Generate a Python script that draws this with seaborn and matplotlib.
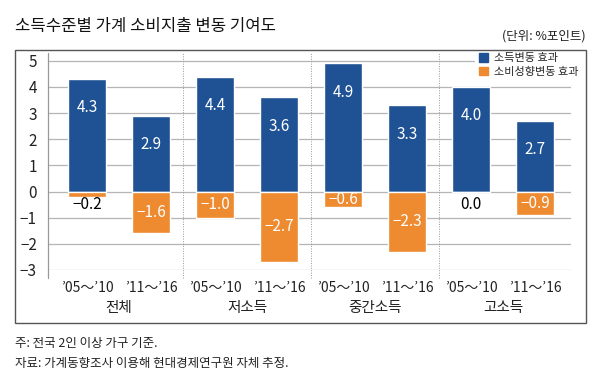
import numpy as np
import pandas as pd
import matplotlib
matplotlib.use('Agg')
import matplotlib.pyplot as plt
import matplotlib.patches as mpatches
import seaborn as sns

# data
groups = ['전체', '저소득', '중간소득', '고소득']
periods = ['’05～’10', '’11～’16']
income_effect = [4.3, 2.9, 4.4, 3.6, 4.9, 3.3, 4.0, 2.7]
propensity_effect = [-0.2, -1.6, -1.0, -2.7, -0.6, -2.3, 0.0, -0.9]
series_names = ['소득변동 효과', '소비성향변동 효과']
yticks = [-3, -2, -1, 0, 1, 2, 3, 4, 5]

BLUE = '#1f5294'
ORANGE = '#ee8a30'

sns.set_style('white')
plt.rcParams['font.family'] = ['Noto Sans CJK KR', 'DejaVu Sans']
plt.rcParams['axes.unicode_minus'] = True

keys = [f'{g}|{p}' for g in groups for p in periods]
df = pd.DataFrame({
    'key': keys,
    'income': income_effect,
    'propensity': propensity_effect,
})

fig = plt.figure(figsize=(6, 3.73), dpi=100)
ax = fig.add_axes([48 / 600, 1 - 270 / 373, (571 - 48) / 600, (270 - 53) / 373])

# gridlines behind bars
for t in yticks:
    ax.axhline(t, color='#b5b5b5', lw=0.9, zorder=0)

sns.barplot(data=df, x='key', y='income', color=BLUE, width=0.6,
            saturation=1, ax=ax, zorder=2)
sns.barplot(data=df, x='key', y='propensity', color=ORANGE, width=0.6,
            saturation=1, ax=ax, zorder=2)

ax.set_xlim(-0.61, 7.56)
ax.set_ylim(-3, 5.3)

# value labels
for i, v in enumerate(income_effect):
    ax.text(i, v - 1.1, f'{v:.1f}', ha='center', va='center',
            color='white', fontsize=11, zorder=3)
for i, v in enumerate(propensity_effect):
    txt = f'{v:.1f}'.replace('-', '−')
    if v <= -0.5:
        ax.text(i, v / 2, txt, ha='center', va='center',
                color='white', fontsize=11, zorder=3)
    else:
        ax.text(i, -0.5, txt, ha='center', va='center',
                color='black', fontsize=11, zorder=3)

# group separators (dotted)
for xs in [1.5, 3.5, 5.5]:
    ax.plot([xs, xs], [-3.3, 5.3], color='#999999', lw=0.7,
            linestyle=(0, (1, 1.5)), clip_on=False, zorder=1)

# axes styling
for s in ['top', 'right', 'bottom', 'left']:
    ax.spines[s].set_visible(False)
ax.plot([-0.61, -0.61], [-3.3, 5.3], color='#999999', lw=0.9,
        clip_on=False, zorder=1)

ax.set_yticks(yticks)
ax.set_yticklabels([str(t).replace('-', '−') for t in yticks])
ax.tick_params(axis='y', length=0, pad=8, labelsize=11, labelcolor='#222222')
ax.set_xticks(range(len(keys)))
ax.set_xticklabels(periods * len(groups))
ax.tick_params(axis='x', length=0, pad=8, labelsize=10, labelcolor='#222222')
ax.set_xlabel('')
ax.set_ylabel('')

# group names under the period labels
for gi, g in enumerate(groups):
    ax.text(gi * 2 + 0.5, -4.2, g, ha='center', va='top', fontsize=10.5,
            color='#222222', clip_on=False)

# legend
handles = [mpatches.Patch(color=BLUE, label=series_names[0]),
           mpatches.Patch(color=ORANGE, label=series_names[1])]
leg = ax.legend(handles=handles, loc='upper right',
                bbox_to_anchor=(582 / 600, 1 - 50 / 373),
                bbox_transform=fig.transFigure,
                frameon=True, fontsize=8, handlelength=0.8, handleheight=0.8,
                handletextpad=0.6, labelspacing=0.3, borderpad=0.3,
                borderaxespad=0)
leg.get_frame().set_edgecolor('white')
leg.get_frame().set_facecolor('white')
leg.get_frame().set_alpha(1)

# outer frame
fig.patches.append(mpatches.Rectangle((15 / 600, 1 - 323 / 373), 571 / 600, 273 / 373,
                                      transform=fig.transFigure, fill=False,
                                      edgecolor='#555555', lw=1))

# title, unit and notes
fig.text(15 / 600, 1 - 27 / 373, '소득수준별 가계 소비지출 변동 기여도',
         ha='left', va='center', fontsize=12, color='#111111')
fig.text(586 / 600, 1 - 36 / 373, '(단위: %포인트)',
         ha='right', va='center', fontsize=9, color='#222222')
fig.text(15 / 600, 1 - 343 / 373, '주: 전국 2인 이상 가구 기준.',
         ha='left', va='center', fontsize=9, color='#222222')
fig.text(15 / 600, 1 - 364 / 373, '자료: 가계동향조사 이용해 현대경제연구원 자체 추정.',
         ha='left', va='center', fontsize=9, color='#222222')

fig.savefig('out.png', dpi=100, facecolor='white')
